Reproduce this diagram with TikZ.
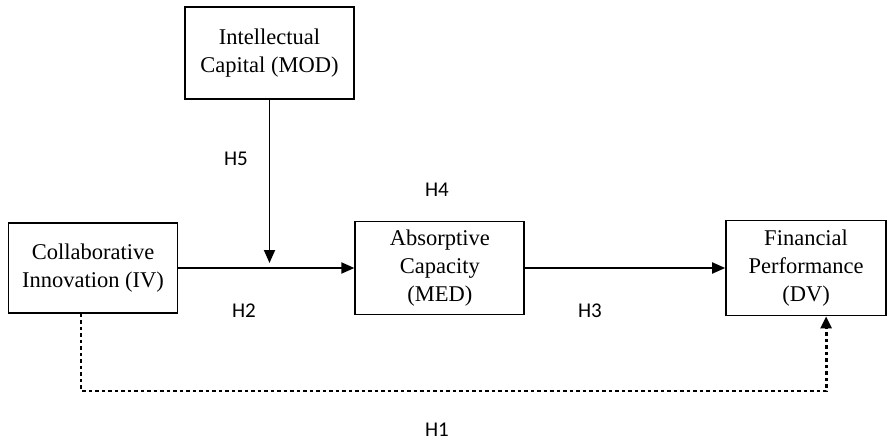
\documentclass[tikz,border=0pt]{standalone}
\usepackage{fontspec}
\setmainfont{Liberation Serif}
\newfontfamily\hfont{Carlito}
\usetikzlibrary{positioning,arrows.meta,calc}

\begin{document}
\begin{tikzpicture}[
      x=1pt, y=1pt,
      font=\fontsize{22.5}{28}\selectfont,
      box/.style={draw, line width=1.8pt, align=center, inner sep=2pt, minimum width=169pt, minimum height=92pt},
      arrow/.style={-{Triangle[length=13pt, width=11pt]}, line width=1.8pt},
      dotline/.style={-{Triangle[length=12pt, width=11pt]}, line width=2.8pt, dash pattern=on 3.5pt off 3pt},
      hlab/.style={font=\hfont\fontsize{21}{24}\selectfont},
    ]
      \useasboundingbox (0,0) rectangle (888,-441);
      \node[box, minimum height=90pt] (civ) at (93,-268) {Collaborative\\Innovation (IV)};
      \node[box, right=176pt of civ, minimum height=93pt] (acap) {Absorptive\\Capacity\\(MED)};
      \node[box, right=200pt of acap, minimum width=160pt, minimum height=95pt] (fperf) {Financial\\Performance\\(DV)};
      \node[box] (icap) at (269.5,-53) {Intellectual\\Capital (MOD)};
      \coordinate (modend) at ($(icap.south |- civ.east)+(0,5pt)$);
      \draw[arrow] (civ) -- (acap);
      \draw[arrow] (acap) -- (fperf);
      \draw[arrow] (icap) -- (modend);
      \draw[dotline] ([xshift=-12pt]civ.south) -- ++(0,-77pt) -| ([xshift=20pt]fperf.south);
      \node[hlab] (h5) at (236,-159) {H5};
      \node[hlab] (h4) at (437,-190) {H4};
      \node[hlab] (h2) at (244,-311) {H2};
      \node[hlab] (h3) at (590,-311) {H3};
      \node[hlab] (h1) at (437,-430) {H1};
    \end{tikzpicture}
\end{document}
